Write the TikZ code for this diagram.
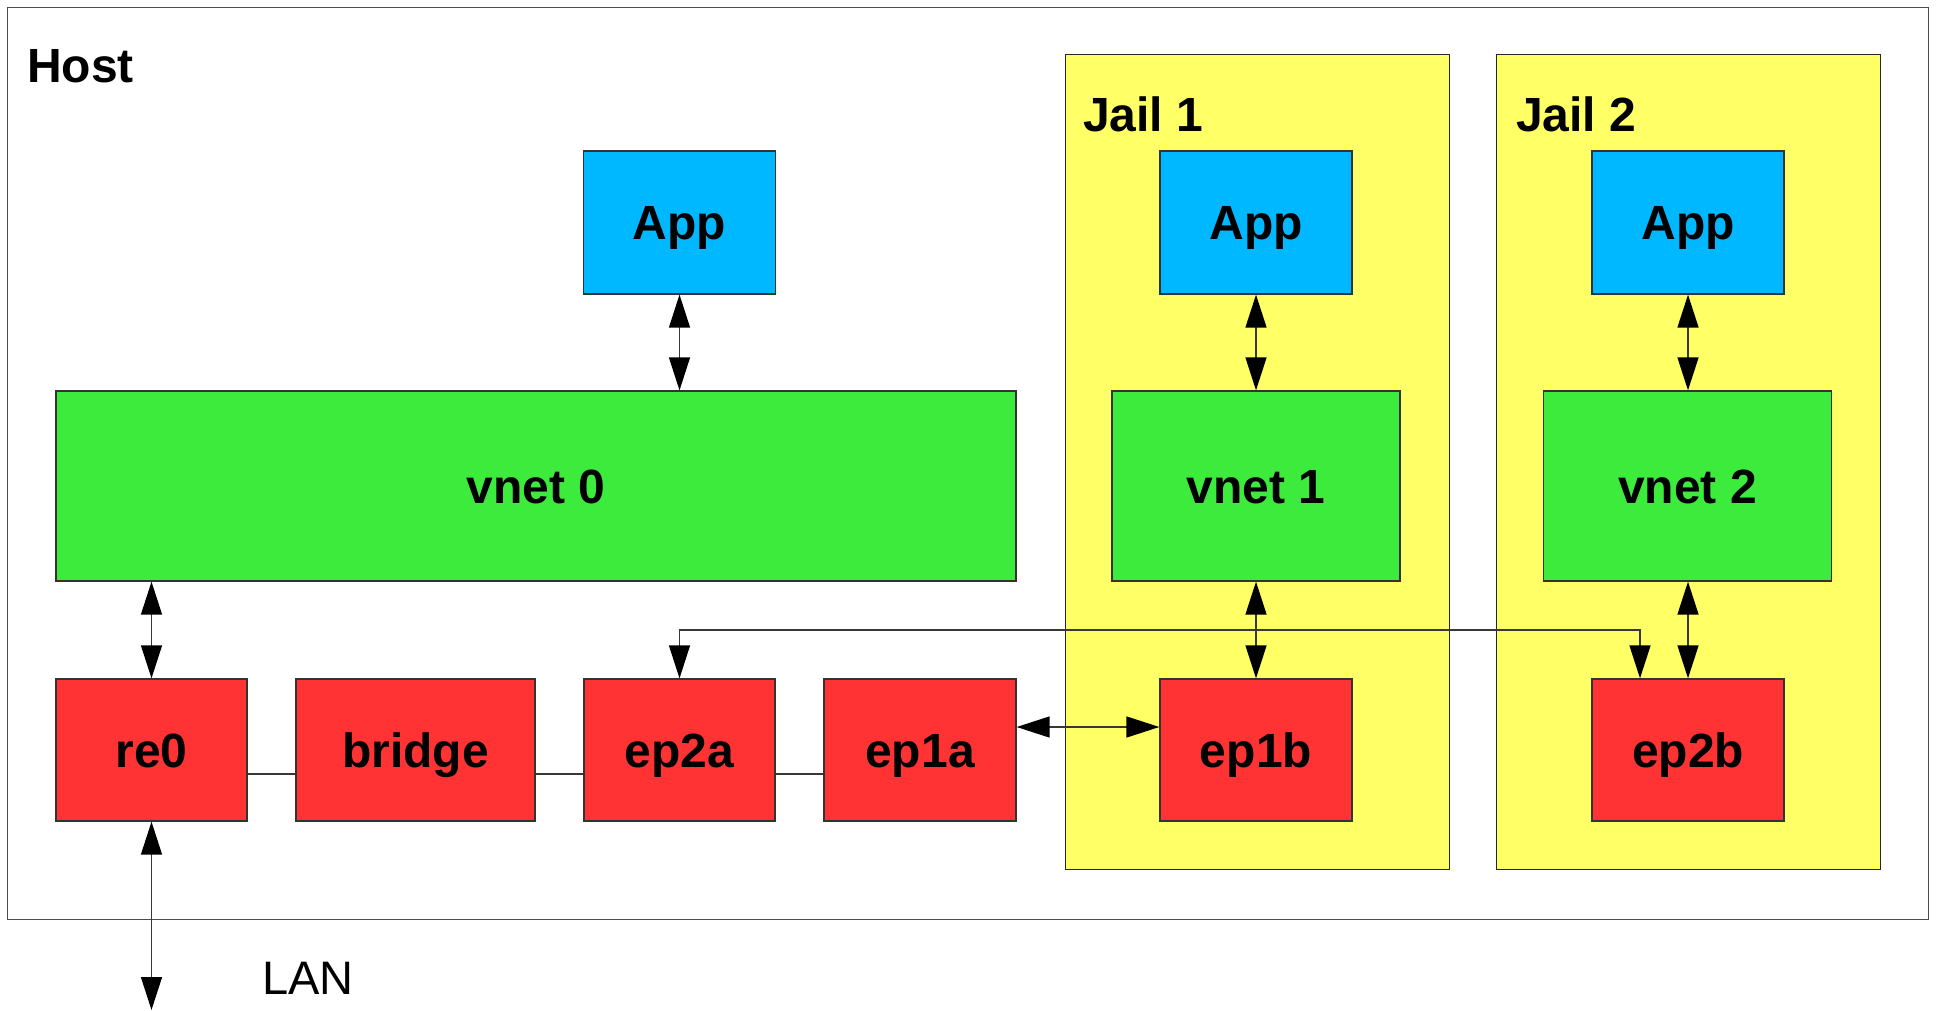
\documentclass[tikz,border=0pt]{standalone}
\usepackage{fontspec}
\setmainfont{Liberation Sans}
\usetikzlibrary{arrows.meta,calc}
\definecolor{appblue}{RGB}{0,184,255}
\definecolor{netgreen}{RGB}{61,235,61}
\definecolor{ifred}{RGB}{255,51,51}
\definecolor{jailyellow}{RGB}{255,255,102}
\begin{document}
\begin{tikzpicture}[x=1pt,y=-1pt,
  box/.style={draw=black!80, line width=1.3pt, inner sep=0pt,
    font=\fontsize{48}{56}\selectfont\bfseries, text height=34pt, text depth=0pt},
  appbox/.style={box, fill=appblue, minimum width=192pt, minimum height=143pt},
  netbox/.style={box, fill=netgreen, minimum height=190pt},
  ifbox/.style={box, fill=ifred, minimum height=142pt},
  hostframe/.style={draw=black!70, line width=1.4pt, fill=white, inner sep=0pt},
  jailframe/.style={draw=black!85, line width=1.2pt, fill=jailyellow, inner sep=0pt,
    minimum width=384pt, minimum height=815pt},
  lbl/.style={inner sep=0pt, font=\fontsize{48}{56}\selectfont\bfseries},
  wire/.style={draw=black!78, line width=1.4pt},
  link/.style={wire,
    {Triangle[length=33pt,width=21pt,color=black]}-{Triangle[length=33pt,width=21pt,color=black]}}
]
\useasboundingbox (0,0) rectangle (1939,1011);

% containers
\node[hostframe, anchor=north west, minimum width=1921pt, minimum height=912pt] (host) at (7,7) {};
\node[lbl, anchor=base west] (hostlbl) at (27,83) {Host};
\node[jailframe, anchor=north west] (jail1) at (1065,54) {};
\node[jailframe, anchor=north west] (jail2) at (1496,54) {};
\node[lbl, anchor=base west] (jail1lbl) at (1083,132) {Jail 1};
\node[lbl, anchor=base west] (jail2lbl) at (1516,132) {Jail 2};

% applications
\node[appbox] (app0) at (679.5,222.5) {App};
\node[appbox] (app1) at (1256,222.5) {App};
\node[appbox] (app2) at (1688,222.5) {App};

% network stacks
\node[netbox, minimum width=960pt] (vnet0) at (536,486) {vnet 0};
\node[netbox, minimum width=288pt] (vnet1) at (1256,486) {vnet 1};
\node[netbox, minimum width=288pt] (vnet2) at (1687.5,486) {vnet 2};

% interfaces
\node[ifbox, minimum width=191pt] (re0) at (151.5,750) {re0};
\node[ifbox, minimum width=239pt] (bridge) at (415.5,750) {bridge};
\node[ifbox, minimum width=191pt] (ep2a) at (679.5,750) {ep2a};
\node[ifbox, minimum width=192pt] (ep1a) at (920,750) {ep1a};
\node[ifbox, minimum width=192pt] (ep1b) at (1256,750) {ep1b};
\node[ifbox, minimum width=192pt] (ep2b) at (1688,750) {ep2b};

% helper coordinates for wire heights and free ends
\coordinate (bridgeY) at (0,774);
\coordinate (pairY) at (0,727);
\coordinate (ep2drop) at (1640,630);
\coordinate (lanend) at (151.5,1010);

% bridge members
\draw[wire] (re0.east |- bridgeY) -- (bridge.west |- bridgeY);
\draw[wire] (bridge.east |- bridgeY) -- (ep2a.west |- bridgeY);
\draw[wire] (ep2a.east |- bridgeY) -- (ep1a.west |- bridgeY);

% stack links
\draw[link] (app0.south) -- (vnet0.north -| app0.south);
\draw[link] (app1.south) -- (vnet1.north);
\draw[link] (app2.south) -- (vnet2.north -| app2.south);
\draw[link] (vnet0.south -| re0.north) -- (re0.north);
\draw[link] (vnet1.south) -- (ep1b.north);
\draw[link] (vnet2.south -| ep2b.north) -- (ep2b.north);

% epair links
\draw[link] (ep1a.east |- pairY) -- (ep1b.west |- pairY);
\draw[link] (ep2a.north) |- (ep2drop) -- (ep2drop |- ep2b.north);

% uplink
\draw[link] (re0.south) -- (lanend);
\node[anchor=base west, inner sep=0pt, font=\fontsize{47}{56}\selectfont] (lan) at (262,994) {LAN};
\end{tikzpicture}
\end{document}
